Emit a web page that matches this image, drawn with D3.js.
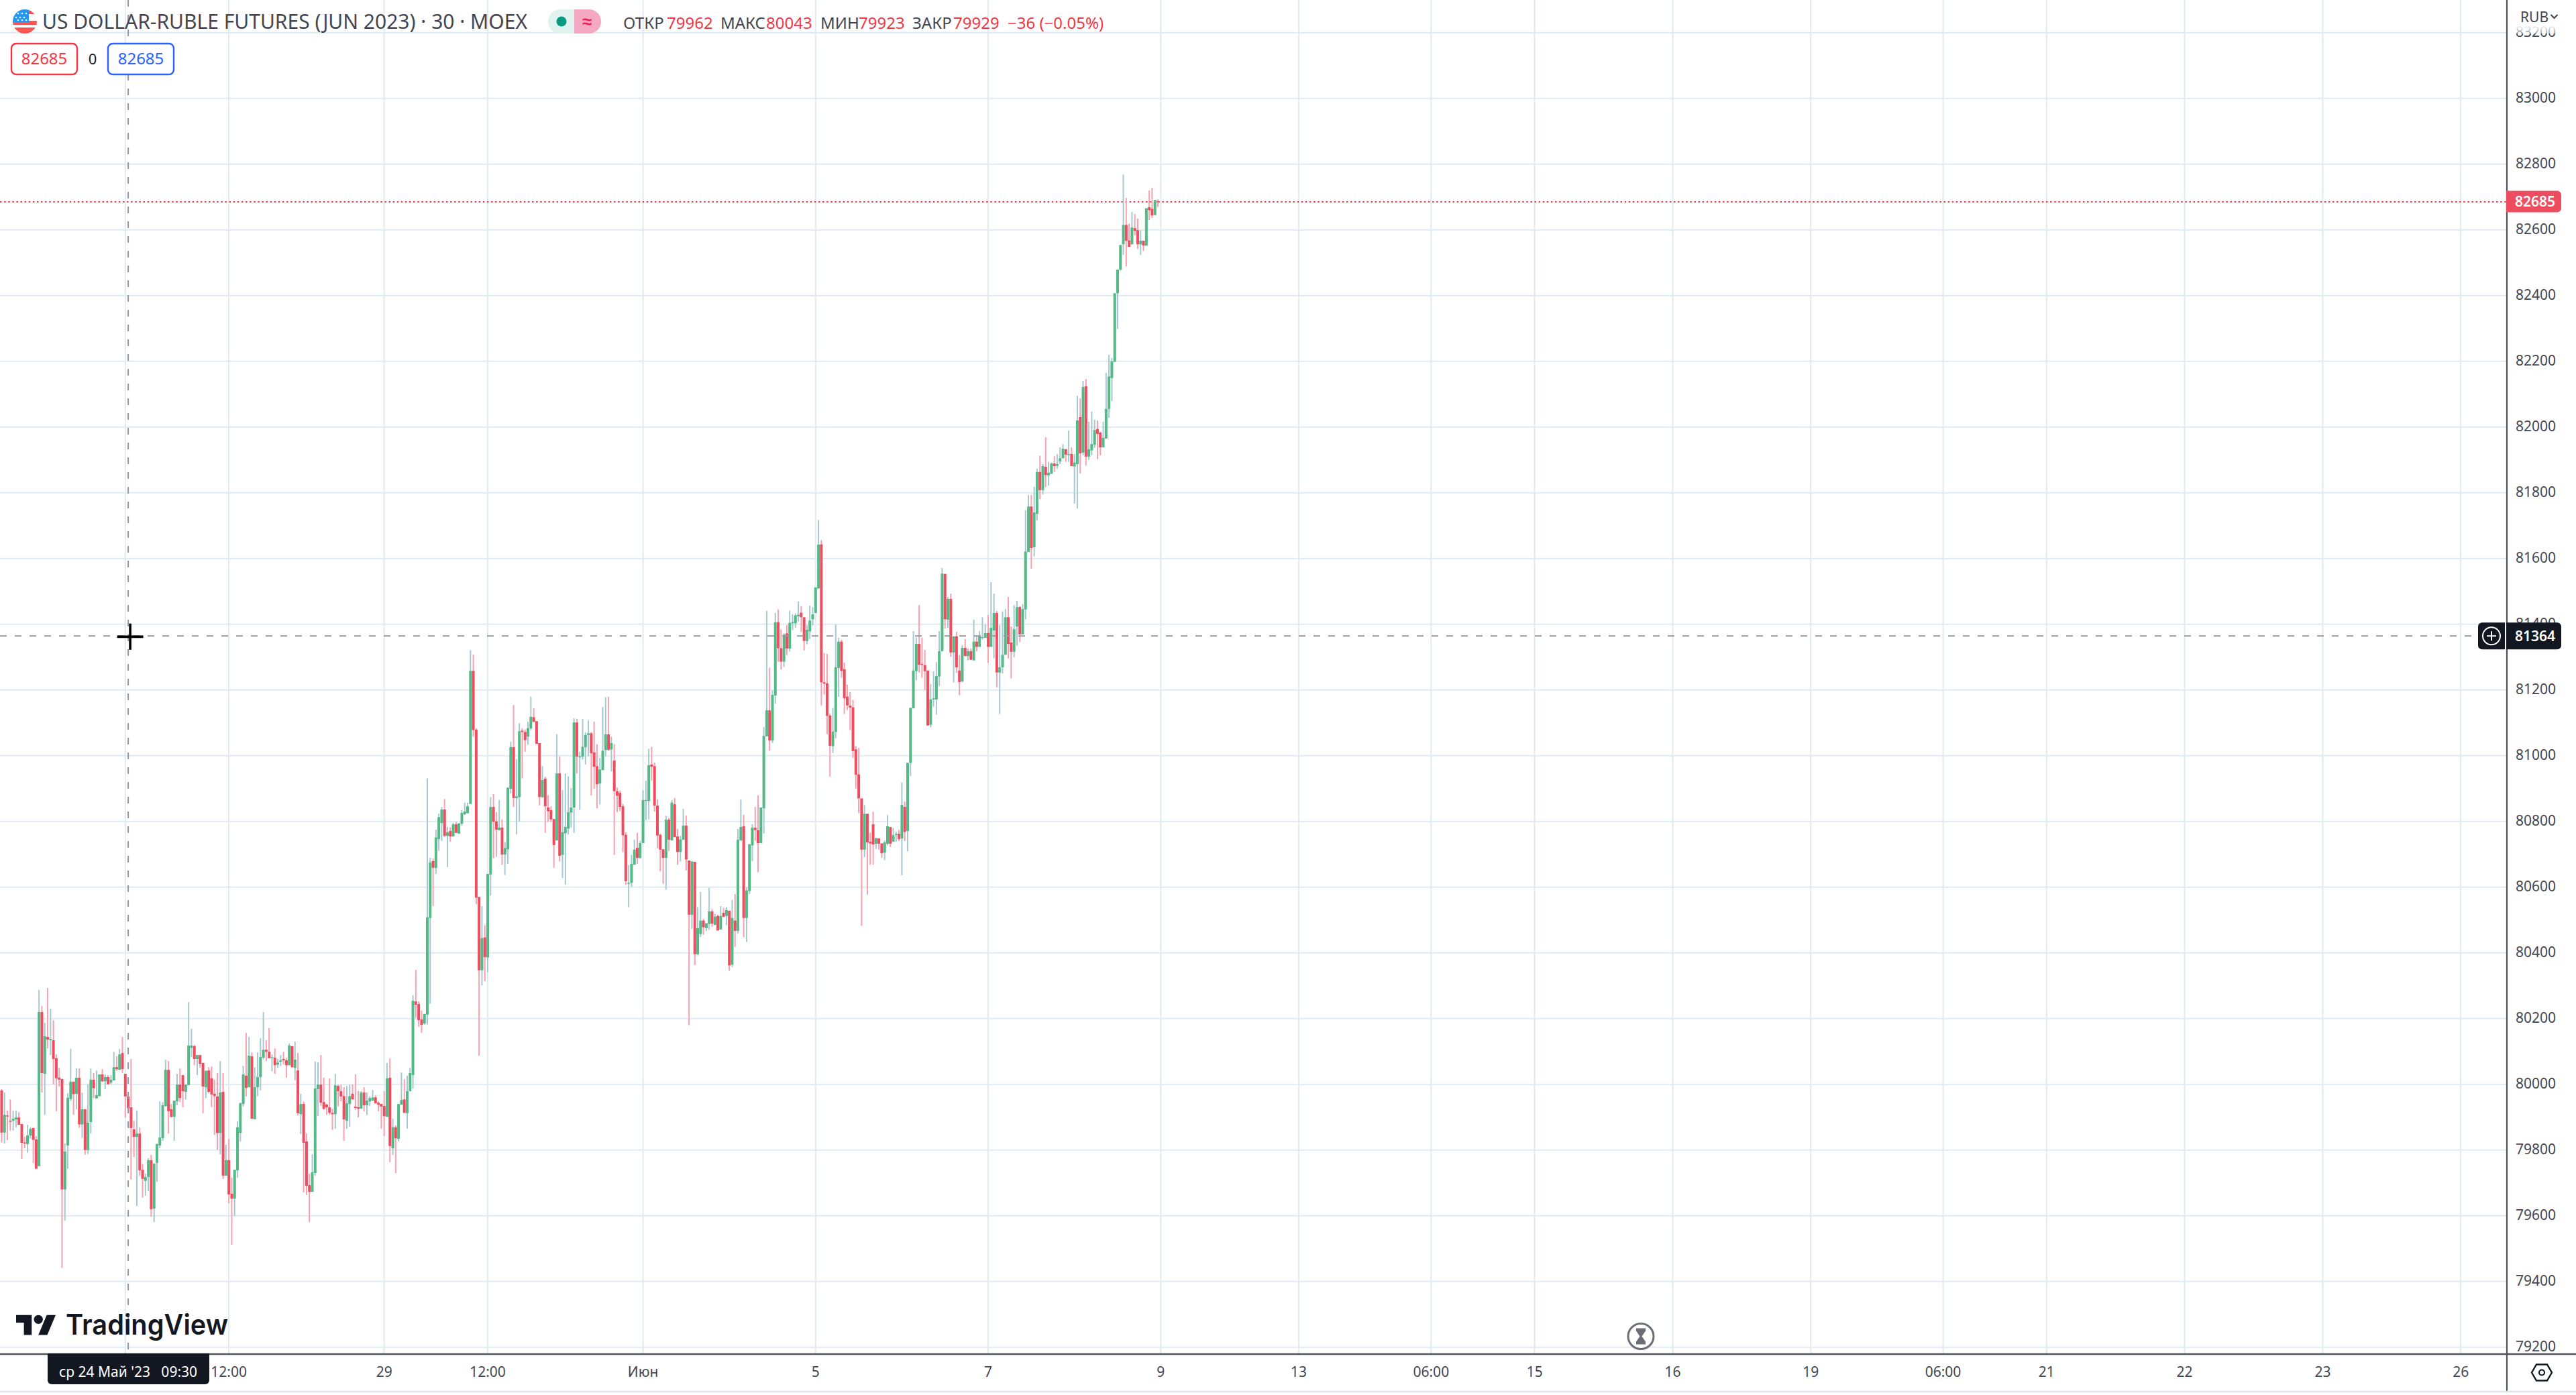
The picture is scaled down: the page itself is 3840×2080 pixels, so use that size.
<!DOCTYPE html>
<html><head><meta charset="utf-8">
<style>html,body{margin:0;padding:0;background:#fff}svg{display:block}text{font-family:"Noto Sans",sans-serif}</style>
<script src="https://cdn.jsdelivr.net/npm/d3@7/dist/d3.min.js"></script>
</head><body><svg id="c" width="3840" height="2080"></svg>
<script>
const opens=[79981,79853,79905,79889,79889,79893,79899,79879,79823,79818,
79844,79867,79832,79751,80220,80032,80144,80134,80134,80079,
80020,80016,79680,79814,79955,80008,79971,80020,79878,79924,
79800,79885,80014,79957,79964,80030,80009,80022,80005,80012,
80052,80044,80095,80032,79963,79930,79863,79840,79850,79740,
79706,79718,79769,79622,79761,79814,79836,79934,80044,79924,
79901,79948,79999,80028,79977,79997,80111,80116,80077,80089,
80065,79991,80042,80018,79971,79963,79852,79977,79722,79769,
79667,79652,79738,79852,79940,80026,79991,80085,79894,79991,
80022,80081,80105,80099,80079,80081,80060,80069,80077,80073,
80058,80116,80050,80042,79909,79940,79826,79693,79673,79730,
79985,79999,79946,79938,79930,79913,79909,79995,79979,79964,
79889,79940,79971,79932,79930,79926,79975,79936,79948,79950,
79960,79944,79940,79934,79901,80020,79805,79869,79834,79938,
79954,79912,79979,80028,80252,80244,80197,80185,80212,80506,
80679,80658,80746,80795,80836,80756,80771,80754,80791,80763,
80793,80821,80825,80853,81258,81079,80570,80347,80447,80386,
80638,80844,80800,80773,80781,80699,80715,80899,81026,80871,
80874,81076,81072,81058,81083,81117,81105,81038,80874,80930,
80842,80834,80807,80742,80946,80698,80764,80778,80827,80842,
81101,80995,80997,81026,81063,81068,81010,80968,80915,80956,
81017,81065,81019,80985,80892,80887,80846,80759,80610,80613,
80668,80720,80688,80734,80862,80862,80973,80968,80848,80759,
80715,80689,80805,80742,80852,80754,80707,80744,80787,80681,
80516,80677,80396,80457,80498,80475,80488,80526,80485,80512,
80471,80522,80512,80528,80364,80498,80467,80742,80785,80506,
80588,80727,80781,80773,80734,80840,81059,81138,81046,81183,
81406,81327,81286,81372,81326,81403,81403,81424,81435,81421,
81349,81378,81415,81434,81509,81643,81223,81220,81122,81029,
81072,81267,81347,81263,81180,81152,81147,81019,80943,80870,
80714,80823,80738,80791,80732,80748,80733,80705,80732,80783,
80738,80761,80762,80748,80844,80771,80978,81144,81257,81340,
81279,81275,81259,81094,81171,81171,81241,81318,81553,81414,
81477,81314,81363,81259,81226,81328,81303,81318,81290,81347,
81331,81359,81359,81373,81331,81381,81434,81253,81269,81307,
81421,81344,81316,81393,81452,81369,81445,81620,81758,81634,
81736,81863,81808,81879,81853,81858,81889,81882,81895,81905,
81932,81916,81918,81880,81887,82030,81922,82124,81910,81929,
81946,81994,81983,81938,81965,82055,82149,82198,82407,82479,
82556,82615,82568,82556,82605,82599,82556,82567,82552,82669,
82664,82645,82687];
const closes=[79853,79907,79903,79888,79895,79899,79877,79822,79820,79844,
79864,79831,79743,80220,80034,80146,80136,80138,80077,80018,
80014,79680,79795,79959,80008,79970,80020,79878,79924,79800,
79883,80014,79988,79967,80030,80009,80022,80000,80014,80052,
80046,80091,80046,79963,79927,79867,79840,79850,79738,79712,
79718,79769,79620,79759,79818,79838,79936,80044,79918,79901,
79950,79999,79958,79979,79999,80118,80118,80077,80089,80062,
79993,80041,79977,79969,79964,79852,79975,79722,79769,79665,
79652,79740,79869,79942,80030,79989,80087,79895,79991,80022,
80083,80105,80099,80079,80082,80058,80066,80073,80073,80058,
80118,80052,80075,79912,79940,79822,79691,79673,79732,79987,
79999,79944,79926,79930,79913,79909,79997,79979,79963,79893,
79942,79964,79954,79928,79926,79975,79936,79950,79958,79960,
79942,79938,79932,79903,80018,79812,79869,79836,79940,79952,
79913,79979,80034,80254,80242,80195,80181,80214,80508,80675,
80659,80751,80813,80836,80756,80767,80754,80791,80765,80794,
80826,80830,80846,81258,81078,80568,80347,80445,80387,80640,
80844,80799,80775,80781,80699,80719,80902,81026,80871,80876,
81074,81072,81047,81084,81118,81103,81036,80874,80926,80846,
80831,80806,80728,80946,80695,80767,80783,80828,80842,81101,
80997,80998,81027,81063,81068,81007,80966,80913,80958,81015,
81065,81018,81038,80892,80878,80844,80758,80618,80613,80671,
80714,80689,80734,80865,80865,80971,80966,80848,80757,80714,
80689,80805,80744,80857,80752,80707,80745,80787,80684,80516,
80678,80396,80475,80498,80478,80490,80526,80489,80510,80468,
80512,80510,80530,80362,80506,80467,80744,80783,80506,80590,
80730,80781,80774,80734,80842,81060,81138,81046,81185,81406,
81327,81286,81368,81326,81404,81406,81427,81429,81421,81349,
81383,81411,81430,81512,81642,81223,81219,81121,81030,81073,
81269,81347,81258,81174,81153,81146,81014,80942,80870,80714,
80823,80736,80733,80730,80749,80732,80703,80736,80785,80732,
80758,80762,80746,80850,80768,80978,81145,81259,81340,81277,
81276,81257,81092,81171,81174,81242,81318,81554,81415,81477,
81314,81363,81269,81224,81328,81303,81318,81292,81347,81331,
81363,81361,81373,81331,81389,81434,81253,81269,81307,81421,
81340,81316,81385,81452,81369,81446,81621,81758,81632,81740,
81863,81808,81881,81854,81861,81889,81881,81887,81905,81934,
81916,81918,81881,81892,82020,81920,82122,81910,81932,81948,
81991,81979,81938,81967,82055,82154,82200,82407,82479,82554,
82615,82567,82548,82607,82597,82556,82567,82552,82666,82660,
82644,82691,82685];
const highs=[79985,79975,79920,79954,79920,79920,79915,79879,79840,79877,
79869,79867,79842,80287,80238,80187,80293,80230,80195,80091,
80050,80016,79820,79973,80108,80008,80048,80048,79975,79924,
80000,80048,80034,80042,80030,80046,80030,80028,80028,80099,
80085,80108,80144,80032,79977,80077,79889,79920,79869,79757,
79728,79775,79785,79759,79820,79948,79946,80075,80071,79940,
79950,80032,80048,80028,79999,80250,80169,80120,80089,80089,
80065,80041,80052,80054,80014,80034,80071,80034,79816,79834,
79716,79740,79887,79945,80056,80156,80144,80097,80052,80097,
80140,80220,80134,80171,80091,80109,80077,80089,80099,80081,
80124,80116,80130,80095,79971,79948,79850,79728,79787,80069,
80067,80089,80020,79941,80018,79926,80032,79999,79999,79991,
79995,79999,79999,80030,79979,79979,79991,79975,79964,79983,
79966,79948,79940,79979,80065,80079,79895,79875,79940,80036,
80016,80026,80050,80271,80348,80252,80224,80214,80931,80689,
80687,80775,80824,80844,80868,80783,80782,80796,80798,80794,
80834,80857,80857,81321,81308,81083,80570,80542,80484,80640,
80874,80883,80828,80865,80806,80737,80904,81042,81154,80989,
81099,81083,81080,81103,81180,81144,81105,81038,80968,80936,
80879,80846,80807,81065,80997,80895,80946,80937,80901,81114,
81112,81012,81111,81071,81107,81072,81103,81035,80993,81148,
81178,81179,81058,81035,80903,80894,80853,80767,80667,80698,
80744,80765,80741,80895,80924,81021,81027,80979,80867,80763,
80715,80817,80810,80864,80871,80777,80756,80838,80818,80681,
80678,80677,80539,80585,80503,80490,80598,80533,80519,80516,
80542,80537,80539,80528,80561,80579,80777,80866,80820,80599,
80732,80791,80844,80879,80842,81087,81441,81268,81198,81434,
81445,81384,81372,81397,81441,81430,81433,81469,81455,81421,
81397,81457,81452,81512,81717,81656,81312,81310,81128,81145,
81399,81359,81353,81283,81216,81194,81170,81029,81024,80870,
80850,80823,80765,80829,80749,80748,80733,80742,80819,80783,
80780,80769,80774,80919,80860,80978,81146,81379,81360,81458,
81359,81322,81259,81218,81257,81285,81379,81571,81553,81483,
81493,81363,81377,81306,81337,81355,81326,81326,81414,81363,
81379,81421,81399,81428,81528,81493,81440,81397,81439,81447,
81483,81393,81458,81471,81455,81461,81747,81793,81793,81818,
81873,81913,81888,81969,81894,81892,81911,81918,81938,81948,
81934,81989,81938,81918,82095,82087,82140,82146,82016,82047,
82022,82020,81987,82016,82165,82220,82210,82198,82420,82481,
82768,82697,82619,82654,82648,82634,82599,82567,82567,82720,
82728,82676,82693];
const lows=[79823,79820,79830,79859,79859,79869,79877,79773,79805,79792,
79835,79760,79743,79751,79975,79907,80109,80089,80000,79918,
79993,79441,79585,79743,79949,79907,79924,79867,79837,79786,
79788,79850,79958,79957,79964,80007,79985,80000,80000,80012,
80041,80044,80034,79899,79912,79710,79779,79630,79722,79655,
79661,79675,79597,79581,79703,79805,79828,79932,79850,79899,
79828,79936,79946,79930,79954,79997,80082,80058,80028,80050,
79912,79958,79973,79930,79846,79801,79787,79712,79722,79638,
79512,79599,79716,79826,79932,79963,79991,79895,79893,79964,
79981,80077,80071,80079,80040,80032,80050,80056,80060,80020,
80058,80050,80012,79905,79848,79671,79663,79581,79673,79722,
79903,79934,79922,79907,79907,79861,79865,79932,79948,79828,
79865,79871,79954,79922,79899,79926,79918,79907,79934,79950,
79942,79918,79865,79842,79901,79763,79785,79730,79826,79938,
79913,79865,79979,79987,80203,80175,80156,80181,80182,80245,
80542,80640,80710,80740,80752,80661,80738,80754,80765,80763,
80787,80821,80825,80853,81058,80548,80087,80301,80314,80341,
80574,80688,80692,80773,80668,80637,80671,80885,80844,80760,
80799,80931,81012,81034,81077,81101,81036,80849,80871,80765,
80798,80798,80659,80742,80678,80628,80607,80760,80781,80765,
80946,80835,80988,80973,80998,80879,80899,80840,80852,80956,
80998,81014,80952,80698,80828,80831,80706,80607,80539,80601,
80668,80671,80688,80734,80804,80806,80924,80830,80718,80648,
80610,80592,80710,80742,80752,80668,80678,80744,80651,80180,
80472,80363,80392,80448,80455,80466,80470,80479,80485,80468,
80471,80508,80484,80345,80356,80418,80459,80742,80448,80433,
80579,80679,80741,80645,80734,80763,81059,81015,81039,81158,
81286,81262,81270,81306,81317,81382,81389,81408,81376,81320,
81339,81355,81396,81434,81507,81153,81186,81066,80936,81008,
81053,81179,81237,81127,81139,81078,80993,80900,80825,80482,
80691,80577,80668,80668,80716,80714,80689,80682,80727,80722,
80738,80738,80740,80636,80740,80709,80938,81144,81229,81253,
81237,81200,81091,81086,81149,81125,81212,81318,81387,81389,
81301,81223,81252,81184,81223,81303,81290,81292,81290,81318,
81331,81353,81359,81282,81331,81296,81208,81127,81250,81307,
81296,81235,81299,81335,81346,81369,81415,81620,81569,81606,
81715,81780,81795,81818,81822,81857,81863,81873,81887,81905,
81894,81894,81881,81767,81752,81859,81914,81883,81900,81914,
81936,81902,81914,81938,81965,82028,82079,82198,82298,82475,
82524,82489,82548,82556,82583,82542,82524,82536,82552,82630,
82636,82645,82670];
const lastPrice=82685, crossPrice=81364, crossBar=44;
const priceTicks=[79200,79400,79600,79800,80000,80200,80400,80600,80800,81000,81200,81400,81600,81800,82000,82200,82400,82600,82800,83000,83200];
const timeBars=[43,79,133,169,223,283,343,403,451,497,533,581,629,675,711,759,807,855];
const timeLabels=["","12:00","29","12:00","Июн","5","7","9","13","06:00","15","16","19","06:00","21","22","23","26"];
const title="US DOLLAR-RUBLE FUTURES (JUN 2023) · 30 · MOEX";
const ohlc=[["ОТКР",929,"79962",994],["МАКС",1074,"80043",1142],["МИН",1223,"79923",1280],["ЗАКР",1360,"79929",1421]];

const W=3840,H=2080,axisX=3737,axisY=2019;
const svg=d3.select("#c");
const x=d3.scaleLinear().domain([0,402]).range([2.45,1726]);
const y=d3.scaleLinear().domain([79200,83200]).range([2008.7,48.7]);
const GRID="#e0eaf1",TXT="#434651",RED="#f23645",DARK="#131722";
svg.append("rect").attr("width",W).attr("height",H).attr("fill","#fff");

// grid
svg.append("g").call(d3.axisLeft(y).offset(0).tickValues(priceTicks).tickSize(-axisX).tickFormat(""))
  .call(g=>{g.select(".domain").remove();g.selectAll("line").attr("stroke",GRID).attr("stroke-width",2);});
svg.append("g").call(d3.axisTop(x).offset(0).tickValues(timeBars).tickSize(-axisY).tickFormat(""))
  .call(g=>{g.select(".domain").remove();g.selectAll("line").attr("stroke",GRID).attr("stroke-width",2);});

// price line
svg.append("line").attr("x1",0).attr("x2",axisX).attr("y1",y(lastPrice)).attr("y2",y(lastPrice))
  .attr("stroke",RED).attr("stroke-width",2).attr("stroke-dasharray","2.5 3.6");

// candles
const UP="#53b987",DN="#ef4c60",WUP="#a5c9d0",WDN="#f7a1ae";
const idx=d3.range(opens.length);
const cg=svg.append("g");
idx.forEach(i=>{
  const up=closes[i]>=opens[i];
  cg.append("line").attr("x1",x(i)).attr("x2",x(i)).attr("y1",y(highs[i])).attr("y2",y(lows[i]))
    .attr("stroke",up?WUP:WDN).attr("stroke-width",2);
});
idx.forEach(i=>{
  const up=closes[i]>=opens[i];
  const t=y(Math.max(opens[i],closes[i])),b=y(Math.min(opens[i],closes[i]));
  cg.append("rect").attr("x",x(i)-2).attr("width",4).attr("y",t).attr("height",Math.max(b-t,1.5)).attr("fill",up?UP:DN);
});

// crosshair
const CH="#9598a1";
svg.append("line").attr("x1",0).attr("x2",3694).attr("y1",y(crossPrice)).attr("y2",y(crossPrice))
  .attr("stroke",CH).attr("stroke-width",2).attr("stroke-dasharray","10 12");
svg.append("line").attr("x1",x(crossBar)).attr("x2",x(crossBar)).attr("y1",0).attr("y2",axisY)
  .attr("stroke",CH).attr("stroke-width",2).attr("stroke-dasharray","10 12");
const cx=x(crossBar)+3,cy=y(crossPrice)+1;
svg.append("path").attr("d",`M${cx-19.5} ${cy}H${cx+19.5}M${cx} ${cy-19.5}V${cy+19.5}`).attr("stroke","#000").attr("stroke-width",3.6).attr("fill","none");

// right scale panel
svg.append("rect").attr("x",axisX).attr("y",0).attr("width",W-axisX).attr("height",H).attr("fill","#fff");
const ya=svg.append("g").attr("transform",`translate(${axisX+43},0)`)
  .call(d3.axisRight(y).offset(0).tickValues(priceTicks).tickSize(0).tickPadding(0).tickFormat(d3.format("d")));
ya.select(".domain").remove();
ya.selectAll("text").attr("x",0).attr("text-anchor","middle").attr("fill",TXT)
  .style("font-family",'"Noto Sans",sans-serif').style("font-size","21px");
const defs=svg.append("defs");
const lg=defs.append("linearGradient").attr("id","fade").attr("x1",0).attr("x2",0).attr("y1",0).attr("y2",1);
lg.append("stop").attr("offset","0.75").attr("stop-color","#fff").attr("stop-opacity",1);
lg.append("stop").attr("offset","1").attr("stop-color","#fff").attr("stop-opacity",0.45);
svg.append("rect").attr("x",axisX+2).attr("y",0).attr("width",W-axisX-2).attr("height",50).attr("fill","url(#fade)");
svg.append("text").attr("x",3757).attr("y",33).attr("fill",TXT).style("font-size","21px").text("RUB");
svg.append("path").attr("d","M3802.5 22l5 5 5-5").attr("fill","none").attr("stroke",TXT).attr("stroke-width",2.2);

// time scale panel
svg.append("rect").attr("x",0).attr("y",axisY).attr("width",W).attr("height",H-axisY).attr("fill","#fff");
const xa=svg.append("g").attr("transform",`translate(0,2046)`)
  .call(d3.axisBottom(x).offset(0).tickValues(timeBars).tickSize(0).tickPadding(0).tickFormat((d,i)=>timeLabels[i]));
xa.select(".domain").remove();
xa.selectAll("text").attr("y",0).attr("dy","0.35em").attr("fill",TXT)
  .style("font-family",'"Noto Sans",sans-serif').style("font-size","21px");
svg.append("line").attr("x1",0).attr("x2",W).attr("y1",axisY).attr("y2",axisY).attr("stroke","#50535e").attr("stroke-width",2.4);
svg.append("line").attr("x1",axisX).attr("x2",axisX).attr("y1",0).attr("y2",2075).attr("stroke","#50535e").attr("stroke-width",2.2);
svg.append("line").attr("x1",0).attr("x2",W).attr("y1",2075).attr("y2",2075).attr("stroke","#e0e3eb").attr("stroke-width",2.4);

// last price tag
function tag(x0,x1,y0,y1,fill,val){
  svg.append("path").attr("d",`M${x0} ${y0}H${x1-6}a6 6 0 0 1 6 6V${y1-6}a6 6 0 0 1-6 6H${x0}Z`).attr("fill",fill);
  svg.append("text").attr("x",(x0+x1)/2+2).attr("y",(y0+y1)/2).attr("dy","0.35em").attr("text-anchor","middle")
    .attr("fill","#fff").attr("font-weight",600).style("font-size","21px").text(val);
}
tag(3736,3818,y(lastPrice)-16.5,y(lastPrice)+15.5,"#ee4d60",d3.format("d")(lastPrice));
tag(3736,3818,y(crossPrice)-20,y(crossPrice)+20,DARK,d3.format("d")(crossPrice));
const py=y(crossPrice);
svg.append("path").attr("d",`M3734 ${py-20}H3700a6 6 0 0 0-6 6V${py+14}a6 6 0 0 0 6 6H3734Z`).attr("fill",DARK);
svg.append("circle").attr("cx",3714).attr("cy",py).attr("r",13).attr("fill","none").attr("stroke","#fff").attr("stroke-width",2);
svg.append("path").attr("d",`M3707 ${py}H3721M3714 ${py-7}V${py+7}`).attr("stroke","#fff").attr("stroke-width",2);

// time tooltip
svg.append("path").attr("d",`M71 2018H312V2058a6 6 0 0 1-6 6H77a6 6 0 0 1-6-6Z`).attr("fill",DARK);
svg.append("text").attr("x",191).attr("y",2046).attr("dy","0.35em").attr("text-anchor","middle").attr("fill","#fff").style("font-size","21px").style("white-space","pre").text("ср 24 Май '23   09:30");

// header
const flag=svg.append("g");
defs.append("clipPath").attr("id","fc").append("circle").attr("cx",37).attr("cy",32).attr("r",18);
flag.attr("clip-path","url(#fc)");
flag.append("rect").attr("x",19).attr("y",14).attr("width",36).attr("height",36).attr("fill","#fff");
[[31,6],[41,10]].forEach(([yy,h])=>flag.append("rect").attr("x",19).attr("y",yy).attr("width",36).attr("height",h).attr("fill","#f95450"));
flag.append("rect").attr("x",19).attr("y",14).attr("width",24).attr("height",19).attr("fill","#2196f3");
flag.append("rect").attr("x",43).attr("y",14).attr("width",12).attr("height",7).attr("fill","#f95450");
[[27,20],[33,20],[39,20],[24,26],[30,26],[36,26],[27,30],[33,30],[39,30]].forEach(([a,b])=>flag.append("circle").attr("cx",a).attr("cy",b).attr("r",1.3).attr("fill","#fff"));
svg.append("text").attr("x",63).attr("y",43).attr("fill",TXT).style("font-size","31px").attr("textLength",723).attr("lengthAdjust","spacingAndGlyphs").text(title);
svg.append("path").attr("d","M856 14H835a18 18 0 0 0 0 36H856Z").attr("fill","#e0f3ef");
svg.append("path").attr("d","M856 14H878a18 18 0 0 1 0 36H856Z").attr("fill","#f4a8c2");
svg.append("circle").attr("cx",837).attr("cy",32).attr("r",7.5).attr("fill","#089981");
svg.append("text").attr("x",875).attr("y",41).attr("text-anchor","middle").attr("fill","#e91e63").attr("font-weight",700).style("font-size","26px").text("≈");
ohlc.forEach(([lab,lx,val,vx])=>{
  svg.append("text").attr("x",lx).attr("y",43).attr("fill",TXT).style("font-size","24px").text(lab);
  svg.append("text").attr("x",vx).attr("y",43).attr("fill",RED).style("font-size","24px").text(val);
});
svg.append("text").attr("x",1502).attr("y",43).attr("fill",RED).style("font-size","24px").text("−36 (−0.05%)");
function btn(x0,x1,c,t){
  svg.append("rect").attr("x",x0).attr("y",65).attr("width",x1-x0).attr("height",46).attr("rx",7).attr("fill","#fff").attr("stroke",c).attr("stroke-width",2.4);
  svg.append("text").attr("x",(x0+x1)/2).attr("y",88).attr("dy","0.35em").attr("text-anchor","middle").attr("fill",c).style("font-size","24px").text(t);
}
btn(17,115,RED,"82685");btn(161,259,"#2962ff","82685");
svg.append("text").attr("x",138).attr("y",88).attr("dy","0.35em").attr("text-anchor","middle").attr("fill",DARK).style("font-size","22px").text("0");

// logo
const logo=svg.append("g").attr("transform","translate(24,1954) scale(1.66)").attr("fill",DARK);
logo.append("path").attr("d","M14 22H7V11H0V4h14v18zM28 22h-8l7.5-18h8L28 22z");
logo.append("circle").attr("cx",20).attr("cy",8).attr("r",4);
svg.append("text").attr("x",98).attr("y",1990).attr("fill",DARK).attr("font-weight",600).style("font-family","Inter,sans-serif").style("font-size","42px").attr("textLength",242).attr("lengthAdjust","spacingAndGlyphs").text("TradingView");

// hourglass
const hx=2446,hy=1992.5,HG="#6a6d78";
svg.append("circle").attr("cx",hx).attr("cy",hy).attr("r",19).attr("fill","#fff").attr("stroke",HG).attr("stroke-width",3);
svg.append("path").attr("d",`M${hx-7} ${hy-12}H${hx+7}V${hy-8}L${hx+1.5} ${hy}L${hx+7} ${hy+8}V${hy+12}H${hx-7}V${hy+8}L${hx-1.5} ${hy}L${hx-7} ${hy-8}Z`).attr("fill",HG);
// settings
const sx=3789,sy=2046.5;
svg.append("path").attr("d",`M${sx-15} ${sy}L${sx-8} ${sy-12}H${sx+8}L${sx+15} ${sy}L${sx+8} ${sy+12}H${sx-8}Z`).attr("fill","none").attr("stroke",DARK).attr("stroke-width",2.4);
svg.append("circle").attr("cx",sx).attr("cy",sy).attr("r",4).attr("fill","none").attr("stroke",DARK).attr("stroke-width",2.2);
</script></body></html>
